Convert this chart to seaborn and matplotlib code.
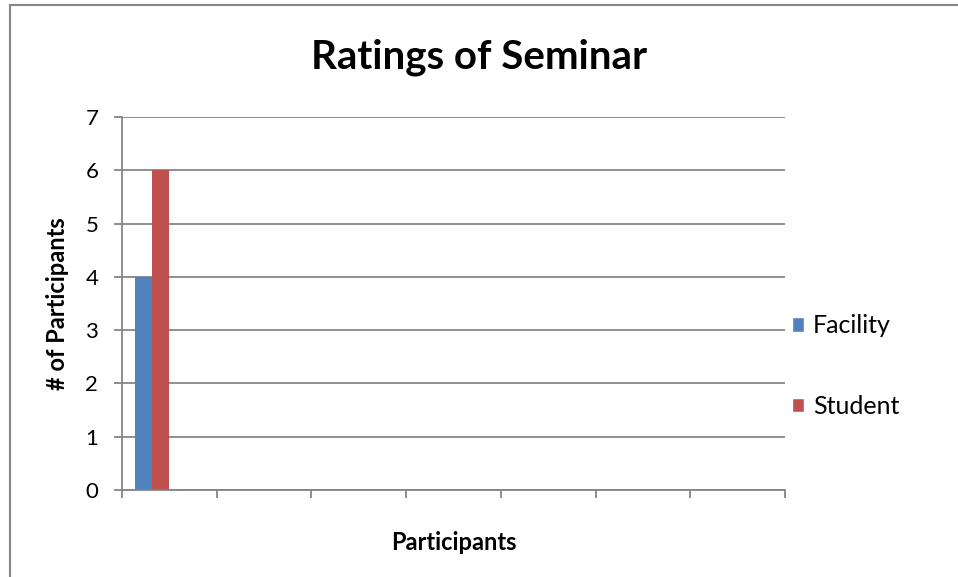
import pandas as pd
import numpy as np
import seaborn as sns
import matplotlib.pyplot as plt
from matplotlib.patches import Patch, Rectangle

# Data (only the first category slot has bars)
categories = ['1', '2', '3', '4', '5', '6', '7']
series = ['Facility', 'Student']
facility = [4]
student = [6]
# Excel reserved room for two more (empty) series in each slot
hue_levels = series + ['_s3', '_s4']
colors = ['#4F81BD', '#C0504D', '#9BBB59', '#8064A2']

df = pd.DataFrame({
    'Category': [categories[0]] * 2,
    'Series': series,
    'Count': [facility[0], student[0]],
})

sns.set_style("white")
plt.rcParams['font.family'] = ['Lato', 'DejaVu Sans']
plt.rcParams['text.color'] = 'black'
plt.rcParams['axes.labelcolor'] = 'black'
plt.rcParams['ytick.labelcolor'] = 'black'

fig = plt.figure(figsize=(9.58, 5.77), dpi=100)
ax = fig.add_axes([0.1273, 0.1508, 0.6921, 0.6464])

sns.barplot(data=df, x='Category', y='Count', hue='Series', order=categories,
            hue_order=hue_levels, palette=dict(zip(hue_levels, colors)),
            width=4 / 5.5, saturation=1, legend=False, linewidth=0, ax=ax)

grid_c = '#868686'
ax.set_ylim(0, 7)
ax.set_yticks(range(0, 8))
ax.yaxis.grid(True, color=grid_c, linewidth=1.3)
ax.set_axisbelow(True)
ax.set_xlim(-0.5, len(categories) - 0.5)
ax.set_xticks(np.arange(-0.5, len(categories), 1))
ax.set_xticklabels([])
ax.tick_params(axis='both', direction='out', length=6, width=1.3, color=grid_c,
               labelsize=16, labelcolor='black', left=True, bottom=True)
ax.tick_params(axis='y', pad=11)
for s in ['top', 'right']:
    ax.spines[s].set_visible(False)
for s in ['left', 'bottom']:
    ax.spines[s].set_color(grid_c)
    ax.spines[s].set_linewidth(1.3)

ax.set_xlabel('Participants', fontsize=17, fontweight='bold', labelpad=20)
ax.set_ylabel('# of Participants', fontsize=17, fontweight='bold', labelpad=12)
fig.text(0.5, 0.90, 'Ratings of Seminar', ha='center', va='center',
         fontsize=29, fontweight='bold')

handles = [Patch(facecolor=c, label=l) for l, c in zip(series, colors)]
ax.legend(handles=handles, loc='center left', bbox_to_anchor=(1.01, 0.332),
          frameon=False, fontsize=18, handlelength=0.5, handleheight=0.5,
          handletextpad=0.35, labelspacing=2.3, borderaxespad=0, borderpad=0)

# outer chart border (only top/left visible in the crop)
fig.patches.append(Rectangle((10 / 958, -0.2), 1.2, 1 - 5 / 577 + 0.2,
                             transform=fig.transFigure, fill=False,
                             edgecolor=grid_c, linewidth=1.5))

fig.savefig('out.png', dpi=100)
plt.close(fig)
